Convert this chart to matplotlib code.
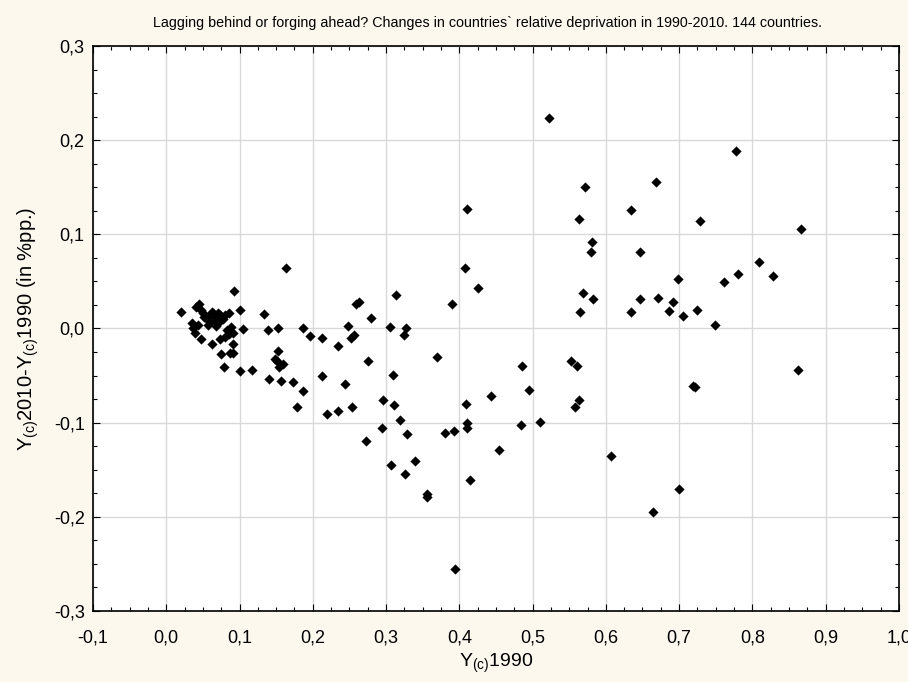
import matplotlib
matplotlib.use("Agg")
import matplotlib.pyplot as plt
from matplotlib.ticker import MultipleLocator, FuncFormatter

plt.rcParams['font.family'] = ['Liberation Sans', 'DejaVu Sans']
plt.rcParams['mathtext.default'] = 'regular'

# Relative deprivation in 1990 (x) and its change 1990-2010 (y), 144 countries
y1990 = [
    0.020, 0.045, 0.041, 0.048, 0.050, 0.064, 0.071, 0.074, 0.085, 0.055,
    0.060, 0.057, 0.069, 0.071, 0.080, 0.092, 0.101, 0.035, 0.037, 0.039,
    0.047, 0.063, 0.073, 0.080, 0.085, 0.089, 0.091, 0.105, 0.091, 0.075,
    0.087, 0.091, 0.079, 0.101, 0.117, 0.134, 0.139, 0.152, 0.153, 0.148,
    0.151, 0.154, 0.160, 0.140, 0.156, 0.052, 0.066, 0.043, 0.078, 0.058,
    0.068, 0.083, 0.062,
    0.163, 0.187, 0.196, 0.213, 0.234, 0.248, 0.252, 0.256, 0.259, 0.263,
    0.279, 0.314, 0.305, 0.327, 0.324, 0.276, 0.213, 0.173, 0.187, 0.244,
    0.310, 0.179, 0.220, 0.234, 0.253, 0.296, 0.311, 0.319, 0.294, 0.328,
    0.272, 0.307, 0.326, 0.340,
    0.522, 0.571, 0.411, 0.563, 0.581, 0.580, 0.408, 0.426, 0.390, 0.569,
    0.582, 0.565,
    0.370, 0.486, 0.552, 0.560, 0.495, 0.443, 0.409, 0.564, 0.558, 0.380,
    0.393, 0.411, 0.411, 0.484, 0.510, 0.454, 0.415, 0.607, 0.356, 0.356,
    0.394,
    0.778, 0.668, 0.634, 0.729, 0.867, 0.646, 0.809, 0.698, 0.781, 0.828,
    0.761, 0.646, 0.671, 0.692, 0.635, 0.686, 0.705, 0.725, 0.749,
    0.862, 0.719, 0.722, 0.700, 0.665,
]
change = [
    0.017, 0.026, 0.023, 0.020, 0.016, 0.016, 0.016, 0.014, 0.016, 0.010,
    0.007, 0.004, 0.009, 0.006, 0.014, 0.040, 0.020, 0.006, 0.000, -0.005,
    -0.011, -0.016, -0.011, -0.009, -0.006, 0.002, -0.005, -0.001, -0.016, -0.027,
    -0.026, -0.026, -0.041, -0.045, -0.044, 0.015, -0.002, 0.001, -0.024, -0.032,
    -0.035, -0.041, -0.038, -0.054, -0.056, 0.012, 0.012, 0.004, 0.010, 0.013,
    0.003, -0.002, 0.018,
    0.064, 0.000, -0.008, -0.010, -0.019, 0.003, -0.010, -0.007, 0.026, 0.028,
    0.011, 0.036, 0.002, 0.001, -0.007, -0.034, -0.050, -0.057, -0.066, -0.059,
    -0.049, -0.083, -0.091, -0.088, -0.083, -0.076, -0.081, -0.097, -0.106, -0.112,
    -0.120, -0.145, -0.155, -0.141,
    0.223, 0.150, 0.127, 0.116, 0.092, 0.081, 0.064, 0.043, 0.026, 0.038,
    0.031, 0.018,
    -0.030, -0.040, -0.035, -0.040, -0.065, -0.072, -0.080, -0.076, -0.083, -0.111,
    -0.109, -0.100, -0.106, -0.102, -0.099, -0.129, -0.161, -0.135, -0.176, -0.179,
    -0.255,
    0.188, 0.156, 0.126, 0.114, 0.106, 0.081, 0.071, 0.053, 0.058, 0.056,
    0.049, 0.031, 0.032, 0.028, 0.017, 0.019, 0.013, 0.020, 0.004,
    -0.044, -0.061, -0.062, -0.170, -0.195,
]

title = "Lagging behind or forging ahead? Changes in countries` relative deprivation in 1990-2010. 144 countries."
xlabel = r"Y$_{(c)}$1990"
ylabel = r"Y$_{(c)}$2010-Y$_{(c)}$1990 (in %pp.)"

bg = "#FDF8EE"
fig = plt.figure(figsize=(9.08, 6.82), dpi=100, facecolor=bg)
ax = fig.add_axes([0.1024, 0.1041, 0.8876, 0.8285])
ax.set_facecolor("white")

ax.scatter(y1990, change, marker="D", s=27, color="black", linewidths=0, zorder=3)

ax.set_xlim(-0.1, 1.0)
ax.set_ylim(-0.3, 0.3)
ax.xaxis.set_major_locator(MultipleLocator(0.1))
ax.yaxis.set_major_locator(MultipleLocator(0.1))
ax.xaxis.set_minor_locator(MultipleLocator(0.025))
ax.yaxis.set_minor_locator(MultipleLocator(0.025))

comma = FuncFormatter(lambda v, pos: f"{v:.1f}".replace(".", ",").replace("-0,0", "0,0"))
ax.xaxis.set_major_formatter(comma)
ax.yaxis.set_major_formatter(comma)

ax.grid(True, which="major", color="#D9D9D9", linewidth=1.0, zorder=0)
ax.set_axisbelow(True)

ax.tick_params(which="both", direction="in", top=True, right=True,
               labelsize=13, colors="black", width=0.8)
ax.tick_params(which="major", length=5)
ax.tick_params(which="minor", length=3)
ax.tick_params(axis="x", which="major", pad=13)
ax.tick_params(axis="y", which="major", pad=6)
for sp in ax.spines.values():
    sp.set_linewidth(1.2)
    sp.set_color("black")

ax.set_xlabel(xlabel, fontsize=14)
ax.set_ylabel(ylabel, fontsize=14.5)
ax.xaxis.set_label_coords(0.5, -0.072)
ax.yaxis.set_label_coords(-0.064, 0.5)
fig.text(0.537, 0.967, title, fontsize=10.3, ha="center", va="center")

fig.savefig("out.png", dpi=100, facecolor=bg)
